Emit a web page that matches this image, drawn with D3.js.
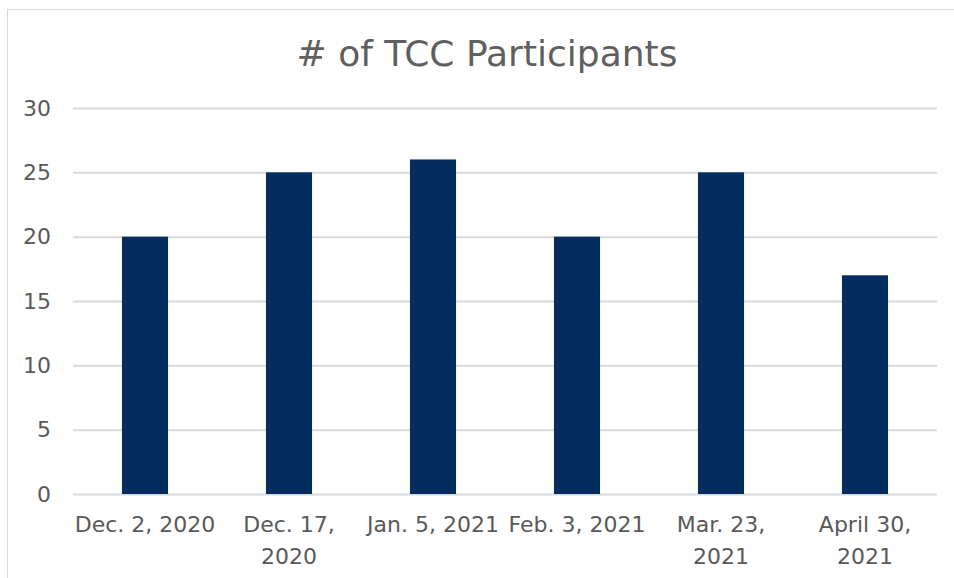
<!DOCTYPE html>
<html lang="en">
    <head>
        <meta charset="utf-8">
        <title># of TCC Participants</title>
        <script src="https://d3js.org/d3.v7.min.js"></script>
        <style>
            body { margin: 0; background: #fff; }
            text { font-family: "DejaVu Sans", sans-serif; fill: #595959; }
        </style>
    </head>
    <body>
        <div id="chart_area"></div>
        <script type="text/javascript">
            // data
            var categories = ["Dec. 2, 2020", "Dec. 17, 2020", "Jan. 5, 2021", "Feb. 3, 2021", "Mar. 23, 2021", "April 30, 2021"];
            var tick_lines = [["Dec. 2, 2020"], ["Dec. 17,", "2020"], ["Jan. 5, 2021"], ["Feb. 3, 2021"], ["Mar. 23,", "2021"], ["April 30,", "2021"]];
            var participants = [20, 25, 26, 20, 25, 17];
            var y_ticks = [0, 5, 10, 15, 20, 25, 30];

            var width = 954, height = 578;
            var plot = {left: 73, right: 937, top: 108, bottom: 494};

            var svg = d3.select('#chart_area').append("svg").attr("width", width).attr("height", height);

            // chart border
            svg.append("rect").attr("x", 7.5).attr("y", 9.5).attr("width", 960).attr("height", 600)
                .attr("fill", "none").attr("stroke", "#d9d9d9").attr("stroke-width", 1);

            svg.append("text").attr("x", 487).attr("y", 66).attr("text-anchor", "middle")
                .style("font-size", "36px").style("fill", "#5f5f5f").text("# of TCC Participants");

            var x = d3.scaleBand().domain(categories).range([plot.left, plot.right])
                .paddingInner(0.68).paddingOuter(0.34);
            var y = d3.scaleLinear().domain([0, 30]).range([plot.bottom, plot.top]);

            // gridlines + y labels via axis
            var yAxis = d3.axisLeft(y).tickValues(y_ticks).tickSize(-(plot.right - plot.left)).tickPadding(22);
            var gy = svg.append("g").attr("transform", "translate(" + plot.left + ",0)").call(yAxis);
            gy.select(".domain").remove();
            gy.selectAll("line").attr("stroke", "#d9d9d9").attr("stroke-width", 2);
            gy.selectAll("text").style("font-size", "22px").style("font-family", "DejaVu Sans").style("fill", "#595959");

            svg.append("g").selectAll("rect").data(participants).join("rect")
                .attr("x", (d, i) => x(categories[i]))
                .attr("y", d => y(d))
                .attr("width", x.bandwidth())
                .attr("height", d => y(0) - y(d))
                .attr("fill", "#032d5e");

            // x labels, wrapped like the original
            var xl = svg.append("g").selectAll("text").data(categories).join("text")
                .attr("x", d => x(d) + x.bandwidth() / 2)
                .attr("y", 532)
                .attr("text-anchor", "middle")
                .style("font-size", "22px");
            xl.each(function(d, i) {
                var t = d3.select(this);
                tick_lines[i].forEach(function(line, j) {
                    t.append("tspan").attr("x", x(d) + x.bandwidth() / 2).attr("dy", j == 0 ? 0 : 32).text(line);
                });
            });
        </script>
    </body>
</html>
